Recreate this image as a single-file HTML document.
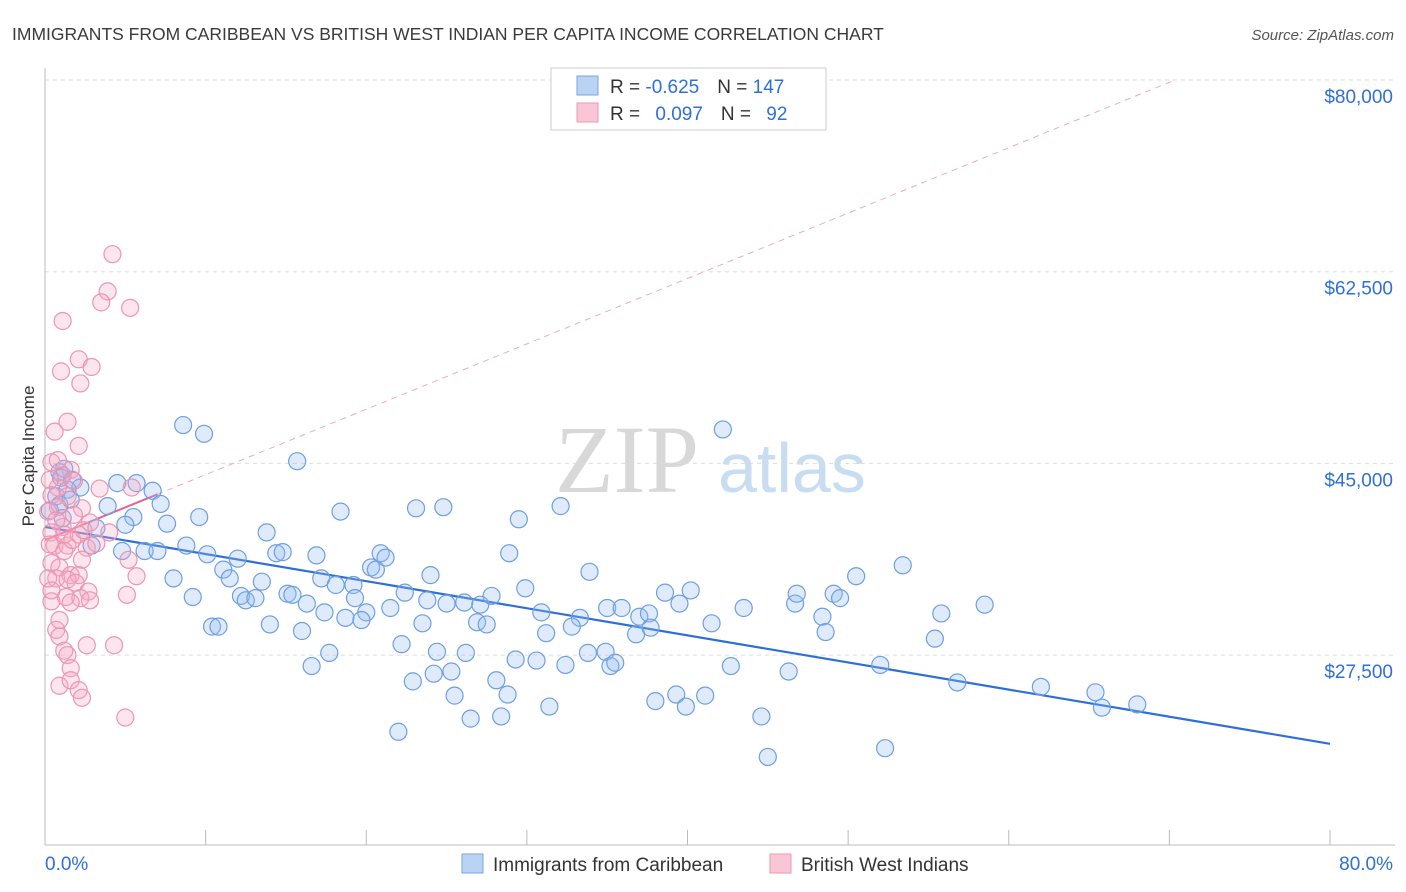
<!DOCTYPE html>
<html><head><meta charset="utf-8"><style>
body{margin:0;background:#fff;font-family:"Liberation Sans",sans-serif;}
svg{display:block}
</style></head><body>
<svg width="1406" height="892" id="chart">
<text x="12" y="40" font-size="17.5" fill="#3a3a3a">IMMIGRANTS FROM CARIBBEAN VS BRITISH WEST INDIAN PER CAPITA INCOME CORRELATION CHART</text>
<text x="1394" y="40" font-size="15" fill="#555" font-style="italic" text-anchor="end">Source: ZipAtlas.com</text>
<text x="555" y="492" font-size="96" fill="#d8d8d8" font-family="Liberation Serif,serif">ZIP</text>
<text x="718" y="492" font-size="70" fill="#c8dcf2">atlas</text>
<text x="34" y="456" font-size="17" fill="#333" transform="rotate(-90 34 456)" text-anchor="middle">Per Capita Income</text>
<g id="grid"></g><g id="axes"></g><g id="trends"></g><g id="pts"></g>
<g>
<rect x="551" y="68" width="275" height="62" fill="#fff" stroke="#ccc"/>
<rect x="577" y="76" width="21" height="19" fill="#b9d3f3" stroke="#7aa6e0"/>
<rect x="577" y="103" width="21" height="19" fill="#f9c6d6" stroke="#ee97b5"/>
<text x="610" y="93" font-size="19" fill="#333">R = <tspan fill="#2f6fd6">-0.625</tspan><tspan dx="18">N = </tspan><tspan fill="#2f6fd6">147</tspan></text>
<text x="610" y="120" font-size="19" fill="#333">R = <tspan fill="#2f6fd6" dx="10">0.097</tspan><tspan dx="18">N = </tspan><tspan fill="#2f6fd6" dx="10">92</tspan></text>
</g>
<g>
<rect x="462" y="854" width="21" height="19" fill="#b9d3f3" stroke="#7aa6e0"/>
<text x="493" y="871" font-size="19" fill="#333">Immigrants from Caribbean</text>
<rect x="770" y="854" width="21" height="19" fill="#f9c6d6" stroke="#ee97b5"/>
<text x="801" y="871" font-size="19" fill="#333">British West Indians</text>
</g>
</svg>
<script>
const xTicks=[0,10,20,30,40,50,60,70,80];
const yTicks=[80000,62500,45000,27500];
const yTickLabels=["$80,000","$62,500","$45,000","$27,500"];
const blueX=[8.6,9.9,15.7,42.2,4.5,5.7,6.7,7.2,3.9,5.5,9.6,7.6,3.2,5.0,13.8,18.4,23.1,24.8,29.5,32.1,2.9,4.8,6.2,7.0,8.8,10.1,12.0,14.4,14.8,16.9,20.9,21.2,28.9,11.1,11.5,8.0,13.5,17.2,18.1,19.2,20.3,20.6,24.0,33.9,53.4,50.5,9.2,12.2,12.5,13.1,15.1,15.4,16.3,17.4,18.7,19.3,20.0,21.5,22.4,23.8,25.0,26.1,27.1,27.8,29.9,30.9,33.3,35.0,35.9,37.0,37.6,38.6,39.5,40.2,43.5,46.7,46.8,48.4,49.1,49.5,55.8,58.5,10.4,10.8,14.0,16.0,17.7,19.7,22.2,23.5,26.9,27.5,31.2,32.8,36.8,37.7,41.5,48.6,55.4,16.6,24.4,26.2,29.3,30.6,32.4,33.8,34.9,35.2,35.5,42.7,46.3,52.0,22.9,24.2,25.3,28.1,25.5,28.8,38.0,39.3,41.1,39.9,56.8,62.0,65.4,65.8,68.0,22.0,26.5,28.4,31.4,44.6,45.0,52.3,0.9,1.2,1.7,2.2,1.0,0.7,0.9,1.4,1.1,0.3,1.6];
const blueY=[48.5,47.7,45.2,48.1,43.2,43.2,42.5,41.3,41.1,40.1,40.1,39.5,39.1,39.4,38.7,40.6,40.9,41.0,39.9,41.1,37.5,37.0,37.0,37.0,37.5,36.7,36.3,36.8,36.9,36.6,36.8,36.4,36.8,35.3,34.5,34.5,34.2,34.5,33.9,33.9,35.5,35.3,34.8,35.1,35.7,34.7,32.8,32.9,32.5,32.7,33.1,33.0,32.2,31.4,30.9,32.7,31.4,31.8,33.2,32.5,32.2,32.3,32.1,32.9,33.6,31.4,30.9,31.8,31.8,31.0,31.3,33.2,32.2,33.4,31.8,32.2,33.1,31.0,33.1,32.7,31.3,32.1,30.1,30.1,30.3,29.7,27.7,30.7,28.5,30.4,30.5,30.3,29.5,30.1,29.4,30.0,30.4,29.6,29.0,26.5,27.8,27.7,27.1,27.0,26.6,27.7,27.8,26.5,26.8,26.5,26.0,26.6,25.1,25.8,26.0,25.2,23.8,23.9,23.3,23.9,23.8,22.8,25.0,24.6,24.1,22.7,23.0,20.5,21.7,21.9,22.8,21.9,18.2,19.0,44.2,44.5,43.5,42.8,43.7,42.0,41.2,42.6,40.0,40.7,41.7];
const pinkX=[4.2,3.9,3.5,5.3,1.1,2.1,2.9,1.0,2.2,1.4,0.6,2.1,0.4,1.6,1.1,1.8,3.4,5.4,0.8,0.4,1.4,2.3,0.8,0.2,2.8,1.1,0.4,2.1,4.0,0.6,1.4,2.6,3.2,1.2,2.3,0.4,0.9,1.6,5.2,5.7,2.1,0.7,1.4,1.9,2.7,1.3,0.4,2.2,5.1,1.6,0.7,0.9,2.6,4.3,1.2,1.4,1.6,0.9,1.6,2.1,2.3,5.0,0.2,0.3,0.7,1.8,0.3,0.8,1.2,1.7,0.4,2.4,0.9,2.8];
const pinkY=[64.1,60.7,59.7,59.2,58.0,54.5,53.8,53.4,52.3,48.8,47.9,46.6,45.1,44.4,43.9,43.4,42.7,42.8,42.8,42.1,42.0,40.9,41.0,40.6,39.6,39.2,38.7,38.5,38.7,37.5,37.5,37.3,37.7,37.0,36.2,35.9,35.5,34.8,36.2,34.7,34.8,34.5,34.4,34.1,33.3,32.8,32.4,32.7,33.0,32.3,29.8,29.2,28.4,28.4,27.9,27.5,26.3,24.7,25.2,24.3,23.6,21.8,34.5,37.6,39.8,40.3,43.5,45.3,38.5,38.0,33.4,38.9,30.7,32.5];
const blueTrend=[39.2,19.4];
const pinkTrend=[38.0,0.597];
const NS="http://www.w3.org/2000/svg";
const X0=45,X1=1330,Y80=80,PXK=10.954;
const xs=p=>X0+(X1-X0)*p/80;
const ys=k=>Y80+(80-k)*PXK;
function mk(tag,attrs,parent){const e=document.createElementNS(NS,tag);for(const k in attrs)e.setAttribute(k,attrs[k]);document.getElementById(parent).appendChild(e);return e;}
yTicks.forEach((v,i)=>{
 const g=mk('line',{x1:45,x2:1395,y1:ys(v/1000),y2:ys(v/1000),stroke:'#ddd','stroke-dasharray':'4,4'},'grid');
 
 
 const t=mk('text',{x:1393,y:ys(v/1000)+23,'font-size':19,fill:'#2f6fd6','text-anchor':'end'},'grid');
 t.textContent=yTickLabels[i];
 
 
});
let a=mk('line',{x1:45,x2:45,y1:68,y2:845,stroke:'#bbb'},'axes');


a=mk('line',{x1:45,x2:1395,y1:845,y2:845,stroke:'#bbb'},'axes');


xTicks.forEach(v=>{
 const t=mk('line',{x1:xs(v),x2:xs(v),y1:830,y2:845,stroke:'#bbb'},'axes');
 
 
});
let l=mk('text',{x:45,y:870,'font-size':19,fill:'#2f6fd6'},'axes');l.textContent=xTicks[0].toFixed(1)+'%';


l=mk('text',{x:1393,y:870,'font-size':19,fill:'#2f6fd6','text-anchor':'end'},'axes');l.textContent=xTicks[8].toFixed(1)+'%';


let tr=mk('line',{x1:xs(0),y1:ys(blueTrend[0]),x2:xs(80),y2:ys(blueTrend[1]),stroke:'#2c6fd8','stroke-width':2.2},'trends');


const pxEnd=(80-pinkTrend[0])/pinkTrend[1];
tr=mk('line',{x1:xs(0),y1:ys(pinkTrend[0]),x2:xs(pxEnd),y2:ys(80),stroke:'#eeaac0','stroke-width':1,'stroke-dasharray':'6,5'},'trends');


tr=mk('line',{x1:xs(0),y1:ys(pinkTrend[0]),x2:xs(7),y2:ys(pinkTrend[0]+7*pinkTrend[1]),stroke:'#e8608c','stroke-width':2},'trends');


blueX.forEach((x,i)=>{
 const c=mk('circle',{cx:xs(x),cy:ys(blueY[i]),r:8.5,fill:'rgba(150,190,240,0.3)',stroke:'#6d9fe2','stroke-width':1.2},'pts');
 
 
});
pinkX.forEach((x,i)=>{
 const c=mk('circle',{cx:xs(x),cy:ys(pinkY[i]),r:8.5,fill:'rgba(245,170,195,0.3)',stroke:'#ee94b3','stroke-width':1.2},'pts');
 
 
});
</script>
</body></html>
